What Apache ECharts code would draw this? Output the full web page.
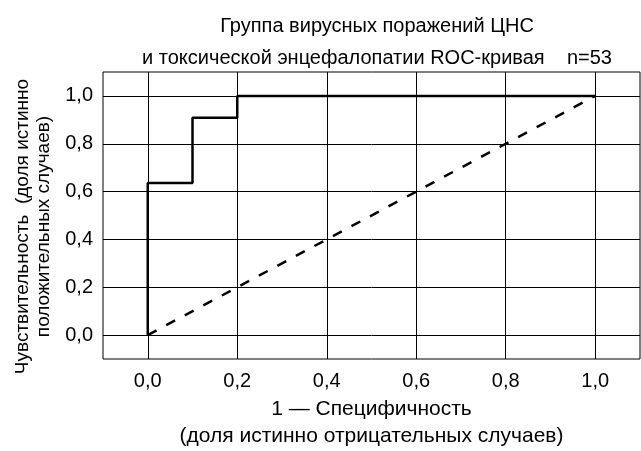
<!DOCTYPE html>
<html>
<head>
<meta charset="utf-8">
<script src="https://cdn.jsdelivr.net/npm/echarts@6/dist/echarts.min.js"></script>
<style>
html,body{margin:0;padding:0;background:#fff;}
#chart{width:641px;height:451px;}
</style>
</head>
<body>
<div id="chart"></div>
<script>
// Data
const titleLines = ['Группа вирусных поражений ЦНС', 'и токсической энцефалопатии ROC-кривая    n=53'];
const xAxisTitle = ['1 — Специфичность', '(доля истинно отрицательных случаев)'];
const yAxisTitle = ['Чувствительность  (доля истинно', 'положительных случаев)'];
const tickValues = [0, 0.2, 0.4, 0.6, 0.8, 1.0];
const rocX = [0, 0, 0.1, 0.1, 0.2, 0.2, 1.0];
const rocY = [0, 0.636, 0.636, 0.909, 0.909, 1.0, 1.0];
const diagX = [0, 1];
const diagY = [0, 1];

const FONT = '"Liberation Sans", Arial, sans-serif';
const fmt = v => v.toFixed(1).replace('.', ',');

const chart = echarts.init(document.getElementById('chart'), null, {renderer: 'canvas'});
chart.setOption({
  animation: false,
  backgroundColor: '#fff',
  title: {
    text: titleLines.join('\n'),
    left: 372, top: 5, textAlign: 'center',
    textStyle: {fontFamily: FONT, fontSize: 20, fontWeight: 'normal', color: '#000', lineHeight: 32}
  },
  grid: {left: 103, right: 1, top: 72, bottom: 92, show: true, borderColor: '#000', borderWidth: 1,
         containLabel: false, outerBoundsMode: 'none'},
  xAxis: {
    type: 'value', min: -0.1, max: 1.1,
    axisLine: {show: false},
    axisTick: {show: false, customValues: tickValues},
    axisLabel: {customValues: tickValues, formatter: fmt, fontFamily: FONT, fontSize: 20, color: '#000', margin: 12},
    splitLine: {show: true, lineStyle: {color: '#000', width: 1}},
    name: xAxisTitle.join('\n'), nameLocation: 'middle', nameGap: 37,
    nameTextStyle: {fontFamily: FONT, fontSize: 21, color: '#000', lineHeight: 27}
  },
  yAxis: {
    type: 'value', min: -0.1, max: 1.1,
    axisLine: {show: false},
    axisTick: {show: false, customValues: tickValues},
    axisLabel: {customValues: tickValues, formatter: fmt, fontFamily: FONT, fontSize: 20, color: '#000', margin: 10},
    splitLine: {show: true, lineStyle: {color: '#000', width: 1}},
    name: yAxisTitle.join('\n'), nameLocation: 'middle', nameGap: 43, nameRotate: 90,
    nameTextStyle: {fontFamily: FONT, fontSize: 19, color: '#000', lineHeight: 21, padding: [0, 22, 0, 0]}
  },
  series: [
    {
      type: 'line', data: diagX.map((x, i) => [x, diagY[i]]), showSymbol: false, symbol: 'none',
      lineStyle: {color: '#000', width: 2.5, type: [10, 11]}, z: 3
    },
    {
      type: 'line', data: rocX.map((x, i) => [x, rocY[i]]), showSymbol: false, symbol: 'none',
      lineStyle: {color: '#000', width: 2.5}, z: 4
    }
  ]
});
</script>
</body>
</html>
